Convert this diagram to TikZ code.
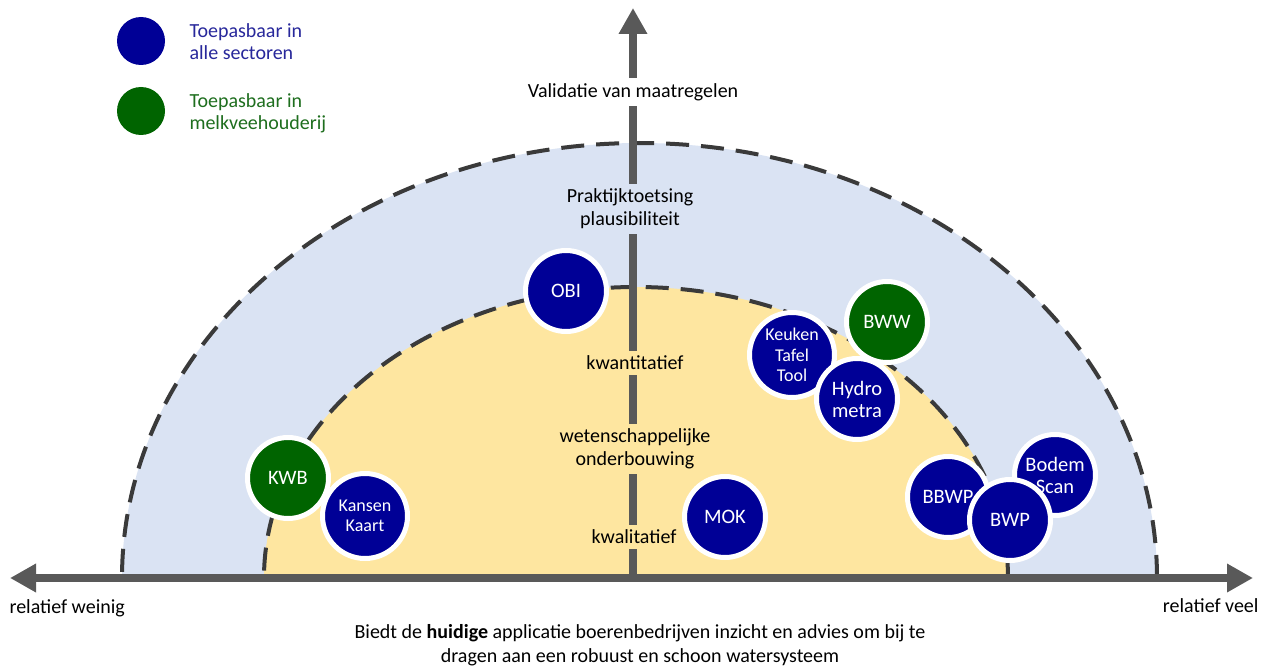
\documentclass[tikz,border=0pt]{standalone}
\usepackage{fontspec}
\setmainfont{Carlito}
\usetikzlibrary{arrows.meta}
\definecolor{lblue}{HTML}{DAE3F3}
\definecolor{lyell}{HTML}{FEE6A0}
\definecolor{cblue}{RGB}{0,0,150}
\definecolor{cgreen}{RGB}{0,100,0}
\definecolor{tblue}{RGB}{40,40,155}
\definecolor{tgreen}{RGB}{30,110,30}
\definecolor{axisgray}{HTML}{595959}
\definecolor{dashgray}{HTML}{3A3A3A}
\tikzset{
  bub/.style={circle, fill=cblue, draw=white, line width=5pt, minimum size=81pt, inner sep=0pt,
    text=white, align=center, font=\fontsize{20.5}{22}\selectfont},
  bubg/.style={bub, fill=cgreen},
  bubs/.style={bub, minimum size=85pt, font=\fontsize{18}{20.5}\selectfont},
  axisline/.style={line width=8pt, draw=axisgray},
  tipend/.style={-{Triangle[length=26pt,width=27pt]}},
  bothend/.style={{Triangle[length=26pt,width=27pt]}-{Triangle[length=26pt,width=27pt]}},
  ring/.style={draw=dashgray, line width=4pt, dash pattern=on 23pt off 12pt},
  axlabel/.style={align=center, font=\fontsize{20}{23}\selectfont, inner xsep=4pt, inner ysep=5pt},
  plain/.style={align=center, font=\fontsize{20}{24}\selectfont},
  legdot/.style={circle, minimum size=48pt, inner sep=0pt},
  legtxt/.style={anchor=west, align=left, font=\fontsize{20}{22}\selectfont},
}
\begin{document}
\begin{tikzpicture}[x=1pt,y=-1pt]
\useasboundingbox (0,0) rectangle (1266,666);
\fill[white] (0,0) rectangle (1266,666);
% half ellipses
\begin{scope}
\clip (0,0) rectangle (1266,578);
\fill[lblue] (639.5,578) ellipse [x radius=517.5pt, y radius=435pt];
\fill[lyell] (636,578) ellipse [x radius=372pt, y radius=291pt];
\draw[ring] (639.5,578) ellipse [x radius=517.5pt, y radius=435pt];
\draw[ring] (636,578) ellipse [x radius=372pt, y radius=291pt];
\end{scope}
% axes
\coordinate (hl) at (10,578);
\coordinate (hr) at (1253,578);
\coordinate (vb) at (633,578);
\coordinate (vt) at (633,8);
\draw[axisline, tipend] (vb) -- (vt);
\draw[axisline, bothend] (hl) -- (hr);
% axis labels
\node[axlabel, fill=white] (val) at (633,92) {Validatie van maatregelen};
\node[axlabel, fill=lblue] (prak) at (630,209) {Praktijktoetsing\\plausibiliteit};
\node[axlabel, fill=lyell] (kwan) at (635,363) {kwantitatief};
\node[axlabel, fill=lyell] (wet) at (635,449) {wetenschappelijke\\onderbouwing};
\node[axlabel, fill=lyell] (kwal) at (634,537) {kwalitatief};
\node[plain, anchor=west] (weinig) at (6,608) {relatief weinig};
\node[plain, anchor=east] (veel) at (1262,606) {relatief veel};
\node[plain] (bottom) at (640,645) {Biedt de \textbf{huidige} applicatie boerenbedrijven inzicht en advies om bij te\\dragen aan een robuust en schoon watersysteem};
% bubbles
\node[bub] (obi) at (566,291) {OBI};
\node[bubs] (ktt) at (792,355) {Keuken\\Tafel\\Tool};
\node[bubg] (bww) at (887,322) {BWW};
\node[bub] (hydro) at (857,399) {Hydro\\metra};
\node[bubg] (kwb) at (288,478) {KWB};
\node[bubs] (kans) at (365,516) {Kansen\\Kaart};
\node[bub] (mok) at (725,517) {MOK};
\node[bub] (bodem) at (1055,475) {Bodem\\Scan};
\node[bub] (bbwp) at (948,497) {BBWP};
\node[bub] (bwp) at (1010,520) {BWP};
% legend
\node[legdot, fill=cblue] (lb) at (141,41) {};
\node[legdot, fill=cgreen] (lg) at (141,111) {};
\node[legtxt, text=tblue] (lbt) at (186,42) {Toepasbaar in\\alle sectoren};
\node[legtxt, text=tgreen] (lgt) at (186,113) {Toepasbaar in\\melkveehouderij};
\end{tikzpicture}
\end{document}
